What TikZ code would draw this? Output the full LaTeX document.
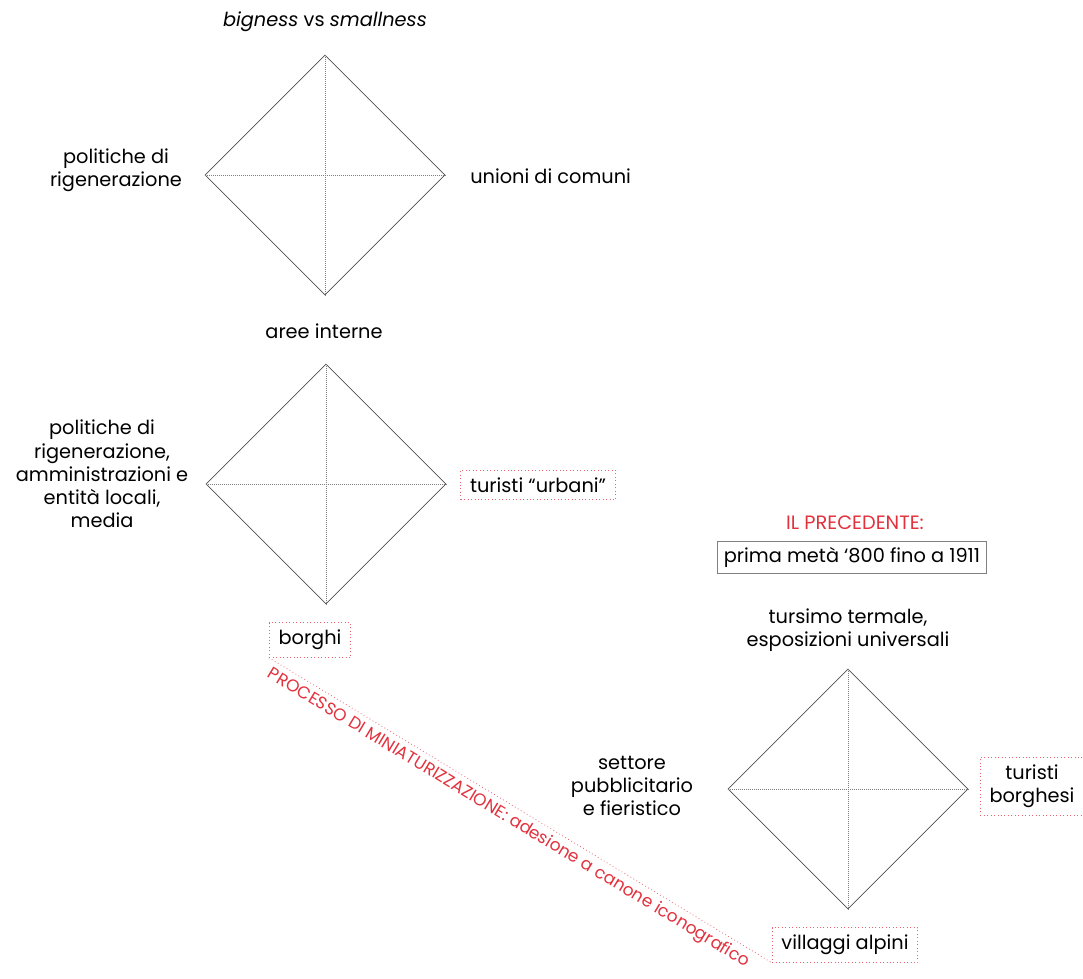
\documentclass[tikz,border=0pt]{standalone}
\usepackage{fontspec}
\setmainfont{Poppins}
\usetikzlibrary{shapes.geometric}
\definecolor{rosso}{RGB}{226,50,62}
\definecolor{grigio}{RGB}{80,80,80}

\begin{document}
\begin{tikzpicture}[x=0.75pt, y=-0.75pt, font=\fontsize{14.5}{17.4}\selectfont,
  every node/.style={align=center, inner sep=0pt},
  rombo/.style={diamond, draw=grigio, line width=0.45pt, minimum width=180pt, minimum height=180pt, inner sep=0pt},
  asse/.style={draw=gray, densely dotted, line width=0.5pt},
  cornice/.style={draw=rosso!75, dotted, line width=0.6pt, inner xsep=7pt, inner ysep=5.5pt},
  nota/.style={text=rosso}]
\useasboundingbox (0,0) rectangle (1083,979);

\node[rombo] (R1) at (325,175) {};
\draw[asse] (R1.north) -- (R1.south);
\draw[asse] (R1.west) -- (R1.east);
\node (T1) at (325,22) {\textit{bigness} vs \textit{smallness}};
\node (S1) at (116,170) {politiche di\\rigenerazione};
\node[anchor=west] (D1) at (470,176) {unioni di comuni};
\node (B1) at (324,331) {aree interne};

\node[rombo] (R2) at (326,484) {};
\draw[asse] (R2.north) -- (R2.south);
\draw[asse] (R2.west) -- (R2.east);
\node (S2) at (102,474) {politiche di\\rigenerazione,\\amministrazioni e\\entità locali,\\media};
\node[cornice] (D2) at (538,485) {turisti “urbani”};
\node[cornice] (B2) at (310,640) {borghi};

\node[nota] (P3) at (855,523) {IL PRECEDENTE:};
\node[draw=gray, line width=0.6pt, inner xsep=5pt, inner ysep=4.5pt] (E3) at (852,557) {prima metà ‘800 fino a 1911};
\node (T3) at (848,630) {tursimo termale,\\esposizioni universali};
\node[rombo] (R3) at (848,789) {};
\draw[asse] (R3.north) -- (R3.south);
\draw[asse] (R3.west) -- (R3.east);
\node (S3) at (632,786) {settore\\pubblicitario\\e fieristico};
\node[cornice] (D3) at (1032,786) {turisti\\borghesi};
\node[cornice] (B3) at (845,945) {villaggi alpini};

\draw[rosso!75, dotted, line width=0.6pt] (B2.south west) -- (B3.south west)
  node[nota, font=\fontsize{12.8}{15}\selectfont, pos=0.49, sloped, below=3pt] {PROCESSO DI MINIATURIZZAZIONE: adesione a canone iconografico};
\end{tikzpicture}
\end{document}
